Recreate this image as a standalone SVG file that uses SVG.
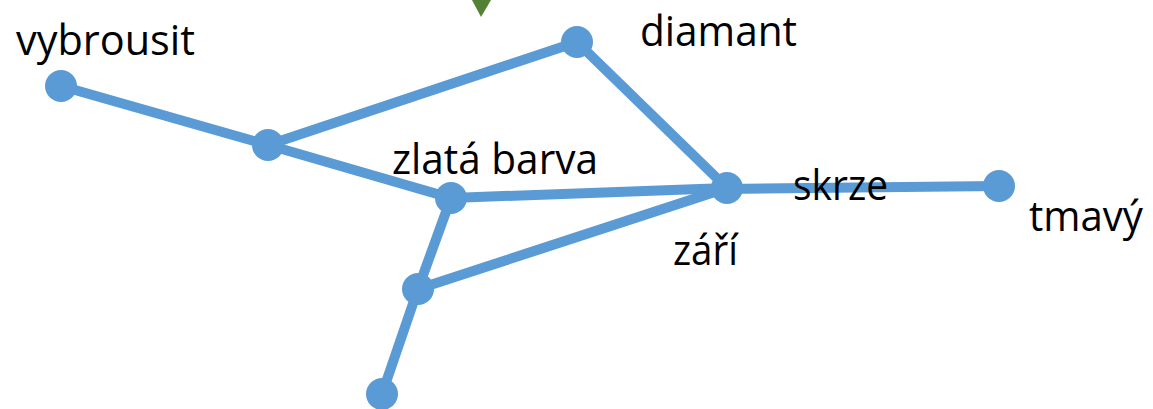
<svg xmlns="http://www.w3.org/2000/svg" width="1153" height="409" viewBox="0 0 1153 409">
<style>
.edge{stroke:#5B9BD5;stroke-width:10;stroke-linecap:round;fill:none}
.node{fill:#5B9BD5}
.lbl{font-family:"Open Sans","Noto Sans",sans-serif;font-size:42px;fill:#000}
</style>
<rect width="1153" height="409" fill="#fff"/>
<polygon points="472,0 491,0 481,17" fill="#548235"/>
<g id="connectors">
<line class="edge" x1="61" y1="86" x2="268" y2="145"/>
<line class="edge" x1="268" y1="145" x2="577" y2="42"/>
<line class="edge" x1="268" y1="145" x2="451" y2="198"/>
<line class="edge" x1="577" y1="42" x2="727" y2="188"/>
<line class="edge" x1="451" y1="198" x2="727" y2="188"/>
<line class="edge" x1="418" y1="289" x2="727" y2="188"/>
<line class="edge" x1="451" y1="198" x2="418" y2="289"/>
<line class="edge" x1="418" y1="289" x2="382" y2="394"/>
<line class="edge" x1="727" y1="189" x2="999" y2="186"/>
</g>
<g id="n-vybrousit"><circle class="node" cx="61" cy="86" r="16"/><text class="lbl" x="16" y="55" textLength="179" lengthAdjust="spacingAndGlyphs">vybrousit</text></g>
<g id="n-junction"><circle class="node" cx="268" cy="145" r="16"/></g>
<g id="n-diamant"><circle class="node" cx="577" cy="42" r="16"/><text class="lbl" x="640" y="46" textLength="157" lengthAdjust="spacingAndGlyphs">diamant</text></g>
<g id="n-zlata-barva"><circle class="node" cx="451" cy="198" r="16"/><text class="lbl" x="392" y="174" textLength="206" lengthAdjust="spacingAndGlyphs">zlatá barva</text></g>
<g id="n-lower"><circle class="node" cx="418" cy="289" r="16"/></g>
<g id="n-bottom"><circle class="node" cx="382" cy="394" r="16"/></g>
<g id="n-hub"><circle class="node" cx="727" cy="188" r="16"/><text class="lbl" x="673" y="265" textLength="65" lengthAdjust="spacingAndGlyphs">září</text><text class="lbl" x="793" y="200" textLength="95" lengthAdjust="spacingAndGlyphs">skrze</text></g>
<g id="n-tmavy"><circle class="node" cx="999" cy="186" r="16"/><text class="lbl" x="1029" y="231" textLength="114" lengthAdjust="spacingAndGlyphs">tmavý</text></g>
</svg>
